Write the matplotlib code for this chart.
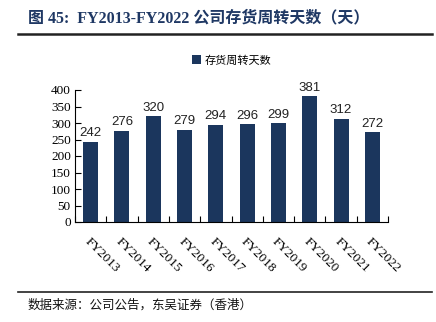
import matplotlib.pyplot as plt
import numpy as np

years = ['FY2013', 'FY2014', 'FY2015', 'FY2016', 'FY2017',
         'FY2018', 'FY2019', 'FY2020', 'FY2021', 'FY2022']
days = [242, 276, 320, 279, 294, 296, 299, 381, 312, 272]

CJK = ['Noto Sans CJK SC', 'DejaVu Sans']
SERIF = ['Liberation Serif', 'DejaVu Serif']
NAVY = '#1b365d'
TITLE_COLOR = '#1f3864'

W, H = 436, 322
fig = plt.figure(figsize=(W / 100, H / 100), dpi=100)

# axes area in pixels: x 75..388, y 90..222
ax = fig.add_axes([75 / W, 1 - 222 / H, (388 - 75) / W, (222 - 90) / H])

x = np.arange(len(years))
bars = ax.bar(x, days, width=0.48, color=NAVY, label='存货周转天数')

for xi, v in zip(x, days):
    ax.text(xi, v + 8, str(v), ha='center', va='bottom',
            fontsize=9.5, family=['Liberation Sans', 'DejaVu Sans'], color='#222222')

ax.set_xlim(-0.5, len(years) - 0.5)
ax.set_ylim(0, 400)
ax.set_yticks(range(0, 401, 50))
ax.set_yticklabels([str(t) for t in range(0, 401, 50)], family=SERIF, fontsize=9.5)

ax.set_xticks(x)
ax.set_xticklabels(years, rotation=-45, ha='left', va='top',
                   rotation_mode='anchor', family=SERIF, fontsize=9.5)
ax.tick_params(axis='x', which='major', length=0, pad=10)
ax.set_xticks(np.arange(-0.5, len(years)), minor=True)
ax.tick_params(axis='x', which='minor', direction='in', length=4, width=0.8)
ax.tick_params(axis='y', direction='in', length=4, width=0.8, pad=3)

for s in ['top', 'right']:
    ax.spines[s].set_visible(False)
ax.spines['left'].set_linewidth(0.8)
ax.spines['bottom'].set_linewidth(0.8)

ax.legend(loc='upper center', bbox_to_anchor=(0.5, 1.34), frameon=False,
          prop={'family': CJK, 'size': 8}, handlelength=0.8, handleheight=0.8,
          handletextpad=0.3)

# title, rules and source
fig.text(28 / W, 1 - 18 / H, '图 45:  FY2013-FY2022 公司存货周转天数（天）',
         ha='left', va='center', fontsize=11.5, fontweight='bold',
         color=TITLE_COLOR, family=['Liberation Serif', 'Noto Sans CJK SC'])
fig.add_artist(plt.Line2D([18 / W, 432 / W], [1 - 34 / H, 1 - 34 / H],
                          color='#222222', linewidth=1.8))
fig.add_artist(plt.Line2D([18 / W, 432 / W], [1 - 292 / H, 1 - 292 / H],
                          color='#222222', linewidth=1.2))
fig.text(28 / W, 1 - 305 / H, '数据来源：公司公告，东吴证券（香港）',
         ha='left', va='center', fontsize=9, color='#111111', family=CJK)

fig.savefig('out.png', dpi=100, facecolor='white')
